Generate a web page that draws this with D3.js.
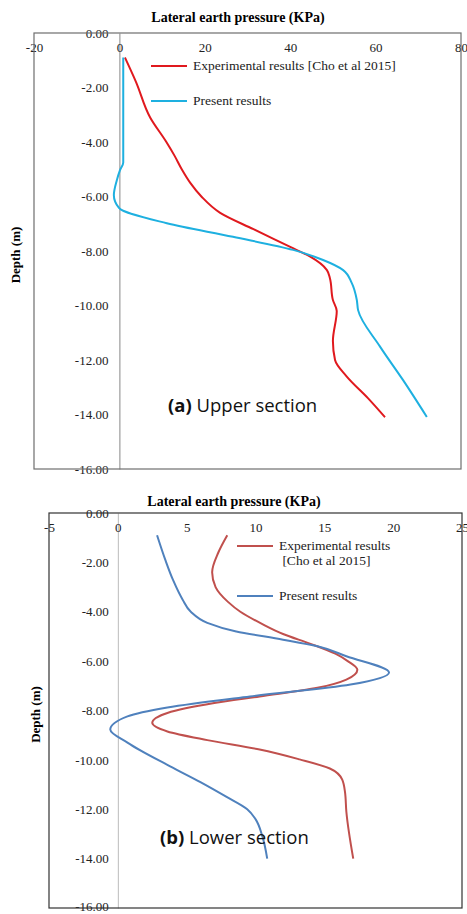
<!DOCTYPE html>
<html>
<head>
<meta charset="utf-8">
<script src="https://cdn.jsdelivr.net/npm/d3@7"></script>
<style>
  body { margin: 0; background: #fff; }
  text { font-family: "Liberation Serif", "Times New Roman", serif; }
</style>
</head>
<body>
<div id="chart"></div>
<script>
// depth ticks shared by both panels
var depthTicks = [0, -2, -4, -6, -8, -10, -12, -14, -16];

// (a) upper section
var upperPressureTicks = [-20, 0, 20, 40, 60, 80];
var upperExpDepth = [-0.9, -1.8, -3.1, -4.0, -4.5, -5.0, -5.5, -6.0, -6.6, -7.2, -7.85, -8.2, -8.7, -9.0, -9.8, -10.2, -11.3, -12.0, -12.6, -13.4, -14.1];
var upperExpValue = [1.3, 3.9, 7.2, 11.0, 12.9, 14.6, 16.6, 19.2, 23.6, 31.4, 40.0, 44.6, 48.6, 49.3, 50.0, 50.9, 50.0, 50.5, 53.2, 58.2, 62.2];
var upperPresentDepth = [-0.9, -4.75, -5.05, -5.4, -5.95, -6.42, -6.98, -7.48, -7.96, -8.33, -8.7, -9.17, -9.8, -10.17, -11.5, -12.73, -14.09];
var upperPresentValue = [0.9, 0.9, 0.1, -0.6, -1.3, -0.1, 11.1, 26.6, 40.7, 47.7, 52.4, 54.4, 55.6, 55.9, 61.0, 66.4, 72.0];

// (b) lower section
var lowerPressureTicks = [-5, 0, 5, 10, 15, 20, 25];
var lowerExpDepth = [-0.9, -1.6, -2.4, -3.0, -3.6, -4.0, -4.5, -4.9, -5.3, -5.7, -6.0, -6.35, -6.75, -7.08, -7.43, -7.7, -8.1, -8.5, -8.85, -9.2, -9.58, -9.98, -10.35, -10.8, -11.3, -12.1, -14.0];
var lowerExpValue = [7.95, 7.3, 6.85, 7.1, 8.0, 8.9, 10.5, 12.0, 14.0, 15.8, 16.7, 17.4, 16.6, 14.5, 10.3, 7.0, 3.6, 2.5, 3.6, 6.5, 10.3, 13.2, 15.4, 16.3, 16.5, 16.6, 17.1];
var lowerPresentDepth = [-0.9, -1.9, -2.7, -3.5, -4.0, -4.45, -4.8, -5.13, -5.4, -5.8, -6.46, -6.95, -7.43, -7.88, -8.24, -8.77, -9.3, -10.26, -10.9, -11.5, -12.0, -12.4, -13.1, -14.0];
var lowerPresentValue = [2.85, 3.45, 4.0, 4.7, 5.3, 6.5, 8.6, 12.0, 14.5, 16.6, 19.7, 16.9, 9.6, 3.6, 0.7, -0.55, 0.7, 3.8, 6.0, 7.9, 9.4, 10.0, 10.5, 10.85];

var seriesNames = ["Experimental results [Cho et al 2015]", "Present results"];

var svg = d3.select("#chart").append("svg")
    .attr("width", 467)
    .attr("height", 914);

var serif = "'Liberation Serif', 'Times New Roman', serif";
// excel style labels use a plain hyphen for the minus
var fmtDepth = function(d) { return d3.format(".2f")(d).replace("\u2212", "-"); };
var fmtPressure = function(d) { return d3.format("d")(d).replace("\u2212", "-"); };

function zip(depths, values) {
  return depths.map(function(d, i) { return { depth: d, value: values[i] }; });
}

function drawPanel(o) {
  var x = d3.scaleLinear().domain([o.ticks[0], o.ticks[o.ticks.length - 1]]).range([o.left, o.right]);
  var y = d3.scaleLinear().domain([0, -16]).range([o.top, o.bottom]);

  // title
  svg.append("text")
      .attr("x", o.titleX).attr("y", o.titleY)
      .attr("text-anchor", "middle")
      .style("font-weight", "bold")
      .style("font-size", "14px")
      .text("Lateral earth pressure (KPa)");

  // depth axis at value 0
  var yAxis = svg.append("g")
      .attr("transform", "translate(" + x(0) + ",0)")
      .call(d3.axisLeft(y).tickValues(depthTicks).tickSize(0).tickPadding(o.yPad).tickFormat(fmtDepth));
  yAxis.select(".domain").attr("stroke", o.zeroColor);
  yAxis.selectAll("text").style("font-size", "13px").style("font-family", serif).attr("fill", "#222");
  // keep the last depth label inside the page
  yAxis.selectAll(".tick text").filter(function(d) { return d === -16; }).attr("dy", o.lastDy);

  // pressure axis along top
  var xAxis = svg.append("g")
      .attr("transform", "translate(0," + o.top + ")")
      .call(d3.axisBottom(x).tickValues(o.ticks).tickSize(0).tickPadding(10).tickFormat(fmtPressure));
  xAxis.select(".domain").remove();
  xAxis.selectAll("text").style("font-size", "13px").style("font-family", serif).attr("fill", "#222");

  // plot box
  svg.append("rect")
      .attr("x", o.left).attr("y", o.top)
      .attr("width", o.right - o.left).attr("height", o.bottom - o.top)
      .attr("fill", "none")
      .attr("stroke", o.boxColor)
      .attr("stroke-width", 1.2);

  svg.append("text")
      .attr("transform", "translate(" + o.depthX + "," + ((o.top + o.bottom) / 2 + 4) + ") rotate(-90)")
      .attr("text-anchor", "middle")
      .style("font-weight", "bold")
      .style("font-size", "13px")
      .text("Depth (m)");

  var line = d3.line()
      .x(function(d) { return x(d.value); })
      .y(function(d) { return y(d.depth); })
      .curve(d3.curveMonotoneY);

  o.series.forEach(function(s) {
    svg.append("path")
        .datum(s.data)
        .attr("d", line)
        .attr("fill", "none")
        .attr("stroke", s.color)
        .attr("stroke-width", 2);
  });

  // legend
  o.series.forEach(function(s, i) {
    var ly = o.legendY[i];
    svg.append("line")
        .attr("x1", o.legendX).attr("x2", o.legendX + 36)
        .attr("y1", ly).attr("y2", ly)
        .attr("stroke", s.color).attr("stroke-width", 2);
    var t = svg.append("text")
        .attr("x", o.legendX + 42).attr("y", ly + 4)
        .style("font-size", "13.5px")
        .attr("fill", "#222");
    s.label.forEach(function(part, j) {
      t.append("tspan").attr("x", o.legendX + 42).attr("dy", j === 0 ? 0 : 15).text(part);
    });
  });

  var cap = svg.append("text")
      .attr("x", o.capX).attr("y", o.capY)
      .style("font-family", "'Open Sans', sans-serif")
      .style("font-size", "18.5px")
      .attr("fill", "#111");
  cap.append("tspan").style("font-weight", "bold").text(o.capTag);
  cap.append("tspan").text(" " + o.capText);
}

drawPanel({
  left: 34, right: 461, top: 33, bottom: 469,
  ticks: upperPressureTicks,
  titleX: 238, titleY: 22,
  depthX: 20, yPad: 11, lastDy: "0.32em",
  zeroColor: "#888", boxColor: "#6e6e6e",
  legendX: 151, legendY: [66, 101],
  capX: 168, capY: 412, capTag: "(a)", capText: "Upper section",
  series: [
    { data: zip(upperExpDepth, upperExpValue), color: "#e0191e", label: [seriesNames[0]] },
    { data: zip(upperPresentDepth, upperPresentValue), color: "#1eb0e0", label: [seriesNames[1]] }
  ]
});

drawPanel({
  left: 49, right: 462, top: 513, bottom: 908,
  ticks: lowerPressureTicks,
  titleX: 234, titleY: 506,
  depthX: 40, yPad: 9, lastDy: "0.2em",
  zeroColor: "#bbb", boxColor: "#333",
  legendX: 237, legendY: [546, 596],
  capX: 160, capY: 844, capTag: "(b)", capText: "Lower section",
  series: [
    { data: zip(lowerExpDepth, lowerExpValue), color: "#c0504d", label: ["Experimental results", " [Cho et al 2015]"] },
    { data: zip(lowerPresentDepth, lowerPresentValue), color: "#4f81bd", label: [seriesNames[1]] }
  ]
});
</script>
</body>
</html>
